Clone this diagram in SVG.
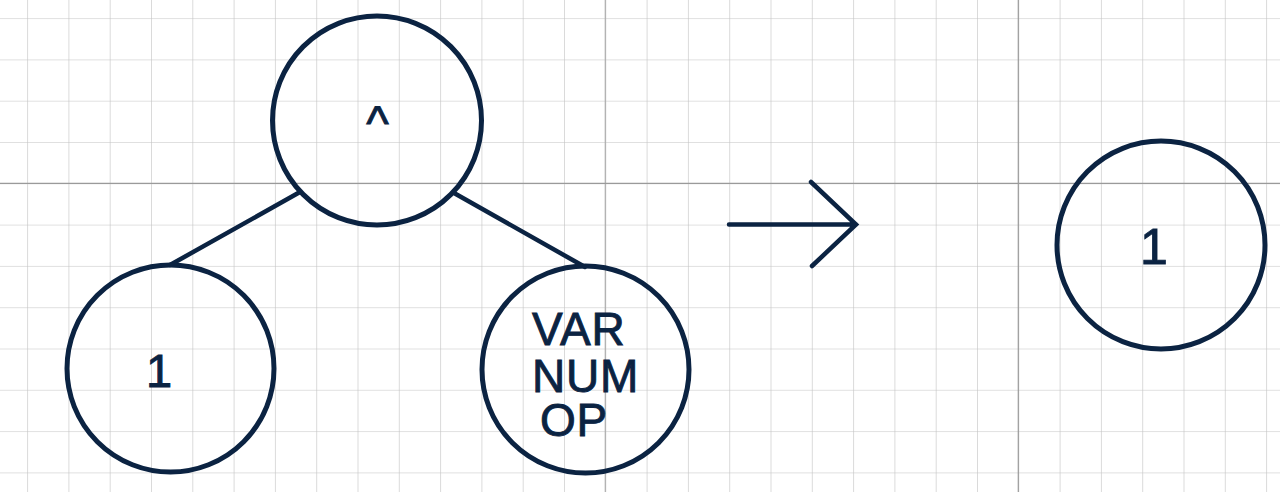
<svg xmlns="http://www.w3.org/2000/svg" width="1280" height="492" viewBox="0 0 1280 492">
<defs>
<pattern id="grid" x="27.1" y="18.1" width="41.3" height="41.3" patternUnits="userSpaceOnUse">
<path d="M0 0V41.3M0 0H41.3" fill="none" stroke="#c2c2c2" stroke-width="1.2"/>
</pattern>
</defs>
<style>
.node{fill:none;stroke:#0b2342;stroke-width:5}
.lbl{font-family:"Liberation Sans",Arial,sans-serif;fill:#0b2342;stroke:#0b2342;stroke-width:0.9}
.edge{stroke:#0b2342;stroke-width:4.5;stroke-linecap:round;fill:none}
</style>
<rect width="1280" height="492" fill="#ffffff"/>
<rect width="1280" height="492" fill="url(#grid)"/>
<g stroke="#9a9a9a" stroke-width="1.2">
<line x1="605.3" y1="0" x2="605.3" y2="492" stroke="#adadad"/>
<line x1="1018.3" y1="0" x2="1018.3" y2="492"/>
<line x1="0" y1="183.3" x2="1280" y2="183.3"/>
</g>
<g id="connectors">
<line class="edge" x1="300" y1="192" x2="170" y2="265"/>
<line class="edge" x1="454" y1="193" x2="585" y2="267"/>
<path class="edge" d="M729 224.5H856M811 182L856 224.5L812 266"/>
</g>
<g id="node-caret">
<circle class="node" cx="377" cy="120.5" r="104.5"/>
<text class="lbl" x="377.5" y="140" font-size="48" text-anchor="middle">^</text>
</g>
<g id="node-one-left">
<circle class="node" cx="170.5" cy="368.5" r="103.5"/>
<text class="lbl" x="146" y="386.5" font-size="47">1</text>
</g>
<g id="node-varnumop">
<circle class="node" cx="585.5" cy="369.5" r="103.5"/>
<text class="lbl" font-size="46" letter-spacing="0.8">
<tspan x="532" y="345">VAR</tspan>
<tspan x="532" y="391.5">NUM</tspan>
<tspan x="540" y="435.5">OP</tspan>
</text>
</g>
<g id="node-one-right">
<circle class="node" cx="1161" cy="245" r="104"/>
<text class="lbl" x="1140" y="264" font-size="50">1</text>
</g>
</svg>
